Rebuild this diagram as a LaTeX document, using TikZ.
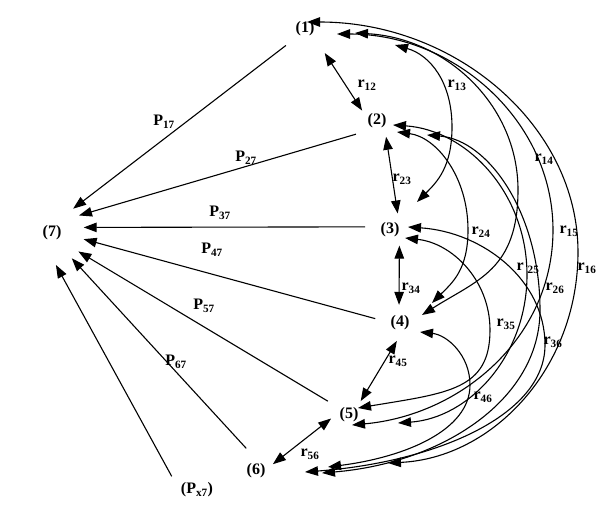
\documentclass[tikz,border=0pt]{standalone}
\usepackage{fontspec}
\setmainfont{Liberation Serif}
\usetikzlibrary{arrows.meta}
\begin{document}
\begin{tikzpicture}[x=1pt, y=-1pt, font=\fontsize{16}{18}\selectfont\bfseries,
		vnode/.style={circle, inner sep=0pt, minimum size=36pt},
		effect/.style={-{Triangle[length=13pt,width=9.5pt]}, line width=1.1pt, shorten <=7pt},
		cor/.style={{Triangle[length=13pt,width=9.5pt]}-{Triangle[length=13pt,width=9.5pt]}, line width=1.1pt}]
			\useasboundingbox (0,0) rectangle (600,509);

			\node[vnode] at (305,29) (n1) {(1)};
			\node[vnode] at (377,121) (n2) {(2)};
			\node[vnode] at (390,230) (n3) {(3)};
			\node[vnode] at (400,323) (n4) {(4)};
			\node[vnode] at (349,415) (n5) {(5)};
			\node[vnode] at (256,471) (n6) {(6)};
			\node[vnode, minimum size=64pt] at (52,233) (n7) {(7)};
			\node[vnode, minimum size=46pt] at (197,490) (px) {(P\textsubscript{x7})};

			\draw[effect] (n1.222) -- (n7.49);
			\draw[effect] (n2.218) -- (n7.33);
			\draw[effect] (n3.170) -- (n7.10);
			\draw[effect] (n4.172) -- (n7.-11);
			\draw[effect] (n5.146) -- (n7.-35);
			\draw[effect] (n6.106) -- (n7.-52);
			\draw[effect] (px.161) -- (n7.-83);

			\node at (164,122) (lp17) {P\textsubscript{17}};
			\node at (246,158) (lp27) {P\textsubscript{27}};
			\node at (220,213) (lp37) {P\textsubscript{37}};
			\node at (212,250) (lp47) {P\textsubscript{47}};
			\node at (204,306) (lp57) {P\textsubscript{57}};
			\node at (176,362) (lp67) {P\textsubscript{67}};

			\draw[cor, shorten <=13pt] (n1.-46) -- (n2.145);
			\draw[cor] (n2.-60) -- (n3.65);
			\draw[cor] (n3.-59) -- (n4.93);
			\draw[cor] (n4.-100) -- (n5.50);
			\draw[cor] (n5.191) -- (n6.22);

			\draw[cor] ([shift={(90,16)}]n1.center) .. controls +(35,10) and +(0,-45) .. (452,127)
				.. controls +(0,40) and +(20,-20) .. ([shift={(27,-28)}]n3.center);
			\draw[cor] ([shift={(50,4)}]n1.center) .. controls +(90,5) and +(0,-86) .. (518,190)
				.. controls +(0,80) and +(55,-35) .. ([shift={(22,-8)}]n4.center);
			\draw[cor] ([shift={(32,5)}]n1.center) .. controls +(119,0) and +(0,-108) .. (553,230)
				.. controls +(0,107) and +(110,-10) .. ([shift={(3,10)}]n5.center);
			\draw[cor] ([shift={(2,-7)}]n1.center) .. controls +(149,0) and +(0,-126) .. (578,252)
				.. controls +(0,116) and +(105,-5) .. ([shift={(132,-8)}]n6.center);
			\draw[cor] ([shift={(20,11)}]n2.center) .. controls +(39,5) and +(0,-54) .. (468,230)
				.. controls +(0,40) and +(20,-20) .. ([shift={(32,-20)}]n4.center);
			\draw[cor] ([shift={(16,4)}]n2.center) .. controls +(74,5) and +(0,-82) .. (527,275)
				.. controls +(0,81) and +(71,-5) .. ([shift={(49,8)}]n5.center);
			\draw[cor] ([shift={(50,14)}]n2.center) .. controls +(62,5) and +(0,-96) .. (540,310)
				.. controls +(0,90) and +(120,-10) .. ([shift={(66,2)}]n6.center);
			\draw[cor] ([shift={(15,8)}]n3.center) .. controls +(47,5) and +(0,-50) .. (490,330)
				.. controls +(0,60) and +(90,-15) .. ([shift={(9,-7)}]n5.center);
			\draw[cor] ([shift={(18,-3)}]n3.center) .. controls +(75,5) and +(0,-65) .. (545,345)
				.. controls +(0,70) and +(132,-10) .. ([shift={(49,1)}]n6.center);
			\draw[cor] ([shift={(20,9)}]n4.center) .. controls +(27,3) and +(0,-30) .. (470,385)
				.. controls +(0,45) and +(78,-10) .. ([shift={(72,-4)}]n6.center);

			\node at (367,85) (lr12) {r\textsubscript{12}};
			\node at (457,85) (lr13) {r\textsubscript{13}};
			\node at (544,159) (lr14) {r\textsubscript{14}};
			\node at (569,231) (lr15) {r\textsubscript{15}};
			\node at (587,268) (lr16) {r\textsubscript{16}};
			\node at (402,179) (lr23) {r\textsubscript{23}};
			\node at (481,232) (lr24) {r\textsubscript{24}};
			\node at (528,268) (lr25) {r\hspace{4pt}\textsubscript{25}};
			\node at (555,288) (lr26) {r\textsubscript{26}};
			\node at (411,288) (lr34) {r\textsubscript{34}};
			\node at (506,324) (lr35) {r\textsubscript{35}};
			\node at (553,342) (lr36) {r\textsubscript{36}};
			\node at (398,361) (lr45) {r\textsubscript{45}};
			\node at (483,397) (lr46) {r\textsubscript{46}};
			\node at (310,454) (lr56) {r\textsubscript{56}};
		\end{tikzpicture}
\end{document}
